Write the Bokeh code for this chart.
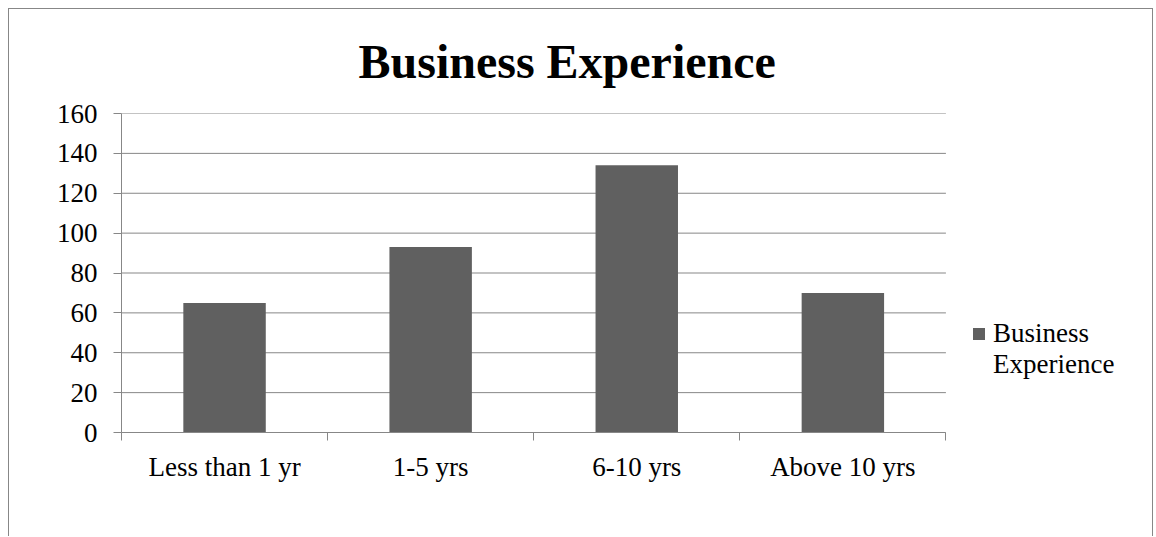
from bokeh.plotting import figure
from bokeh.models import ColumnDataSource, FixedTicker, Legend, LegendItem, Title
from bokeh.embed import file_html
from bokeh.resources import INLINE

categories = ["Less than 1 yr", "1-5 yrs", "6-10 yrs", "Above 10 yrs"]
values = [65, 93, 134, 70]
series_name = "Business Experience"
legend_lines = ["Business", "Experience"]
y_ticks = [0, 20, 40, 60, 80, 100, 120, 140, 160]

FONT = "Liberation Serif"
GRID = "#878787"
BAR = "#606060"

n = len(categories)
x_centers = [i + 0.5 for i in range(n)]
boundaries = list(range(n + 1))

src = ColumnDataSource(dict(x=x_centers, top=values, cat=categories))
grid_src = ColumnDataSource(dict(y=y_ticks, x0=[0] * len(y_ticks), x1=[n] * len(y_ticks)))

# the frame runs to the right edge so the legend (drawn inside it) is not clipped;
# axis and grid lines are limited to the category span
p = figure(width=1145, height=528, output_backend="svg", toolbar_location=None,
           x_range=(0, n * 1.253), y_range=(0, 160),
           min_border_left=112, min_border_right=0, min_border_top=104, min_border_bottom=105)
p.styles = {"margin-left": "8px", "margin-top": "8px",
            "border-top": "1px solid #878787", "border-left": "1px solid #878787",
            "border-right": "1px solid #878787"}
p.outline_line_color = None
p.background_fill_color = "white"
p.border_fill_color = "white"
p.xgrid.grid_line_color = None
p.ygrid.grid_line_color = None

p.segment(x0="x0", x1="x1", y0="y", y1="y", source=grid_src, line_color=GRID, line_width=1)

r = p.vbar(x="x", top="top", width=0.4, bottom=0, source=src, fill_color=BAR, line_color=None)
# invisible twin used only to indent the second legend line
r_blank = p.vbar(x=[], top=[], width=0.4, fill_alpha=0, line_alpha=0)

p.title = Title(text=series_name, text_font=FONT, text_font_size="48px", text_font_style="bold",
                align="left", offset=237, standoff=48, vertical_align="top", text_color="black")

# x axis
xa = p.xaxis[0]
xa.bounds = (0, n)
xa.ticker = FixedTicker(ticks=x_centers, minor_ticks=boundaries)
xa.major_label_overrides = {c: lab for c, lab in zip(x_centers, categories)}
xa.major_tick_line_color = None
xa.major_tick_out = 0
xa.major_tick_in = 0
xa.minor_tick_line_color = GRID
xa.minor_tick_out = 8
xa.minor_tick_in = 0
xa.axis_line_color = GRID
xa.major_label_text_font = FONT
xa.major_label_text_font_size = "27px"
xa.major_label_text_color = "black"
xa.major_label_standoff = 11

ya = p.yaxis[0]
ya.ticker = FixedTicker(ticks=y_ticks)
ya.axis_line_color = GRID
ya.major_tick_line_color = GRID
ya.major_tick_out = 8
ya.major_tick_in = 0
ya.minor_tick_line_color = None
ya.major_label_text_font = FONT
ya.major_label_text_font_size = "27px"
ya.major_label_text_color = "black"
ya.major_label_standoff = 16

legend = Legend(items=[LegendItem(label=legend_lines[0], renderers=[r]),
                       LegendItem(label=legend_lines[1], renderers=[r_blank])],
                location=(850, 52), glyph_width=15, glyph_height=15, label_standoff=7,
                padding=0, margin=0, border_line_color=None, background_fill_alpha=0,
                label_text_font=FONT, label_text_font_size="27px", label_text_color="black",
                spacing=0)
p.add_layout(legend, "center")

open("out.html", "w").write(file_html(p, INLINE))
